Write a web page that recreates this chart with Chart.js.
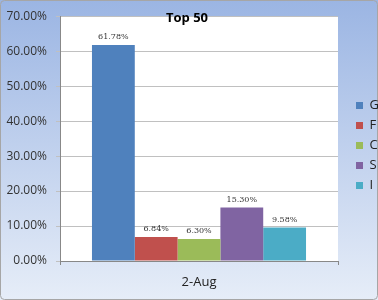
<!DOCTYPE html>
<html>
<head>
<meta charset="utf-8">
<script src="https://cdn.jsdelivr.net/npm/chart.js@4/dist/chart.umd.min.js"></script>
<style>
html,body{margin:0;padding:0;background:#fff;}
#wrap{width:378px;height:300px;position:relative;}
</style>
</head>
<body>
<div id="wrap"><canvas id="c" width="378" height="300"></canvas></div>
<script>
const categories = ['2-Aug'];
const seriesNames = ['G', 'F', 'C', 'S', 'I'];
const seriesValues = [[61.78], [6.84], [6.30], [15.30], [9.58]];
const seriesColors = ['#4f81bd', '#c0504d', '#9bbb59', '#8064a2', '#4bacc6'];
const yTicks = [0, 10, 20, 30, 40, 50, 60, 70];
const chartTitle = 'Top 50';

const bgPlugin = {
  id: 'bg',
  afterInit(chart) {
    const lg = chart.legend;
    if (lg) {
      const of = lg.fit;
      lg.fit = function() { of.call(this); this.width = 40; };
    }
  },
  afterLayout(chart) {
    const lg = chart.legend;
    if (lg) { lg.left += 11; lg.right += 11; lg.top -= 10; lg.bottom -= 10; }
  },
  beforeDraw(chart) {
    const ctx = chart.ctx, w = chart.width, h = chart.height;
    ctx.save();
    const g = ctx.createLinearGradient(0, 0, 0, h);
    g.addColorStop(0, '#9bb5e3');
    g.addColorStop(1, '#e6edf8');
    ctx.fillStyle = g;
    ctx.fillRect(0, 0, w, h);
    ctx.strokeStyle = '#a6a6a6';
    ctx.lineWidth = 1;
    ctx.beginPath();
    ctx.roundRect(0.5, 0.5, w - 1, h - 1, 4);
    ctx.stroke();
    const a = chart.chartArea;
    ctx.fillStyle = '#ffffff';
    ctx.fillRect(a.left, a.top, a.right - a.left, a.bottom - a.top);
    ctx.restore();
  },
  afterDraw(chart) {
    const ctx = chart.ctx;
    ctx.save();
    ctx.font = '8px "DejaVu Serif"';
    ctx.fillStyle = '#333333';
    ctx.textAlign = 'center';
    ctx.textBaseline = 'bottom';
    chart.data.datasets.forEach((ds, i) => {
      const meta = chart.getDatasetMeta(i);
      meta.data.forEach((bar, j) => {
        const v = ds.data[j];
        ctx.fillText(v.toFixed(2) + '%', bar.x, bar.y - 4);
      });
    });
    ctx.font = 'bold 13px "Open Sans"';
    ctx.fillStyle = '#000000';
    ctx.textBaseline = 'middle';
    ctx.fillText(chartTitle, 187, 18);
    ctx.restore();
  }
};

new Chart(document.getElementById('c'), {
  type: 'bar',
  data: {
    labels: categories,
    datasets: seriesNames.map((n, i) => ({
      label: n,
      data: seriesValues[i],
      backgroundColor: seriesColors[i],
      borderWidth: 0
    }))
  },
  options: {
    responsive: false,
    animation: false,
    devicePixelRatio: 1,
    categoryPercentage: 0.77,
    barPercentage: 1,
    layout: { padding: { top: 11, right: 0, bottom: 0, left: 0 } },
    plugins: {
      legend: {
        position: 'right',
        labels: {
          boxWidth: 7, boxHeight: 7, padding: 7,
          color: '#222222',
          font: { family: '"Open Sans"', size: 13 }
        }
      },
      tooltip: { enabled: false },
      title: { display: false }
    },
    scales: {
      x: {
        offset: true,
        grid: { display: true, drawOnChartArea: false, tickLength: 4, color: '#888888', offset: true },
        border: { color: '#888888' },
        ticks: { color: '#222222', padding: 9, font: { family: '"Open Sans"', size: 13 } },
        afterFit(s) { s.height = 39; }
      },
      y: {
        min: 0, max: 70,
        afterBuildTicks(s) { s.ticks = yTicks.map(v => ({ value: v })); },
        grid: { color: '#c0c0c0', tickLength: 4 },
        border: { color: '#888888' },
        ticks: {
          color: '#333333', padding: 9,
          font: { family: '"Open Sans"', size: 12 },
          callback: v => Number(v).toFixed(2) + '%'
        },
        afterFit(s) { s.width = 60; }
      }
    }
  },
  plugins: [bgPlugin]
});
</script>
</body>
</html>
